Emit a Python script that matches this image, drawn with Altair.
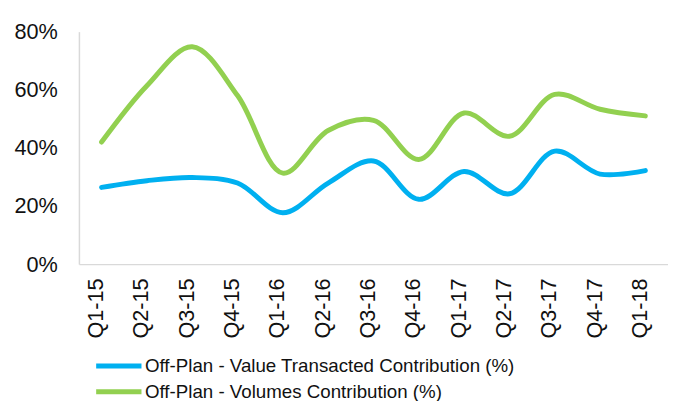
import altair as alt
import pandas as pd

quarters = ["Q1-15", "Q2-15", "Q3-15", "Q4-15", "Q1-16", "Q2-16", "Q3-16",
            "Q4-16", "Q1-17", "Q2-17", "Q3-17", "Q4-17", "Q1-18"]
value_contrib = [26.4, 28.7, 29.8, 27.9, 17.7, 27.9, 35.5, 22.3, 31.9, 24.2, 38.9, 31.0, 32.2]
volume_contrib = [42.0, 61.4, 74.8, 58.0, 31.3, 46.0, 49.5, 36.0, 52.0, 44.0, 58.4, 53.3, 51.0]
series_names = ["Off-Plan - Value Transacted Contribution (%)",
                "Off-Plan - Volumes Contribution (%)"]
series_colors = ["#00B0F0", "#92D050"]
y_ticks = [0, 0.2, 0.4, 0.6, 0.8]

rows = []
for q, v in zip(quarters, value_contrib):
    rows.append({"quarter": q, "series": series_names[0], "value": v / 100})
for q, v in zip(quarters, volume_contrib):
    rows.append({"quarter": q, "series": series_names[1], "value": v / 100})
df = pd.DataFrame(rows)

FONT = "Liberation Sans"

chart = (
    alt.Chart(df)
    .mark_line(interpolate="catmull-rom", strokeWidth=5, strokeCap="round")
    .encode(
        x=alt.X("quarter:N", sort=quarters, title=None,
                scale=alt.Scale(padding=0.5),
                axis=alt.Axis(labelAngle=-90, ticks=False, labelPadding=14,
                              labelOffset=-6, domainColor="#D9D9D9", domainWidth=1.5,
                              labelFontSize=22, labelColor="#111111", labelFont=FONT,
                              grid=False)),
        y=alt.Y("value:Q", title=None,
                scale=alt.Scale(domain=[0, 0.8], nice=False),
                axis=alt.Axis(values=y_ticks, format=".0%", ticks=False, labelPadding=22,
                              domainColor="#D9D9D9", domainWidth=1.5,
                              labelFontSize=22, labelColor="#111111", labelFont=FONT,
                              grid=False)),
        color=alt.Color("series:N", sort=series_names,
                        scale=alt.Scale(domain=series_names, range=series_colors),
                        legend=alt.Legend(orient="none", legendX=28, legendY=327,
                                          title=None, direction="vertical",
                                          symbolType="M-2.3,0H2.3", symbolSize=400,
                                          symbolStrokeWidth=5, labelOffset=14,
                                          labelFontSize=19, labelFont=FONT,
                                          labelColor="#111111", rowPadding=3,
                                          labelLimit=600)),
    )
    .properties(width=598, height=236,
                padding={"left": 5, "top": 10, "right": 0, "bottom": 0})
    .configure_view(stroke=None)
)

chart.save("out.html", embed_options={"renderer": "svg", "actions": False})
